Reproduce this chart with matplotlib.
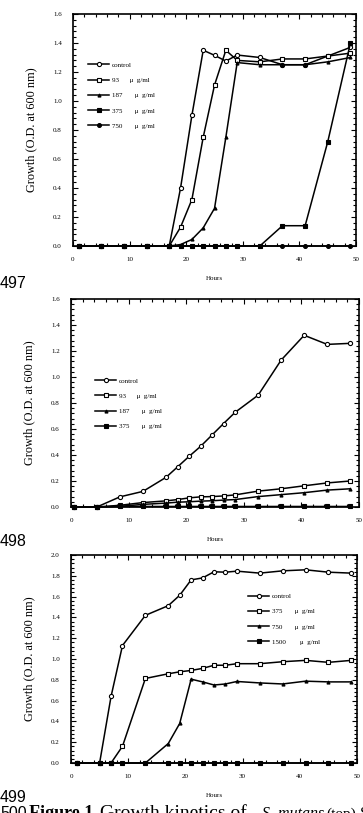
import matplotlib
matplotlib.use("Agg")
import matplotlib.pyplot as plt
from matplotlib.ticker import MultipleLocator, AutoMinorLocator

plt.rcParams['font.family'] = ['Liberation Serif', 'DejaVu Serif']

# panel 1 (top)
hours1 = [1, 5, 9, 13, 17, 19, 21, 23, 25, 27, 29, 33, 37, 41, 45, 49]
p1_control = [0, 0, 0, 0, 0, 0.40, 0.90, 1.35, 1.315, 1.275, 1.317, 1.30, 1.25, 1.25, 1.31, 1.37]
p1_93 = [0, 0, 0, 0, 0, 0.13, 0.32, 0.75, 1.11, 1.35, 1.28, 1.27, 1.29, 1.29, 1.31, 1.33]
p1_187 = [0, 0, 0, 0, 0, 0.01, 0.045, 0.125, 0.26, 0.75, 1.265, 1.25, 1.25, 1.25, 1.27, 1.30]
p1_375 = [0, 0, 0, 0, 0, 0, 0, 0, 0, 0, 0, 0, 0.14, 0.14, 0.72, 1.40]
p1_750 = [0] * 16
labels1 = ["control", "93      \u03bc  g/ml", "187       \u03bc  g/ml",
           "375       \u03bc  g/ml", "750       \u03bc  g/ml"]

# panel 2 (middle)
hours2 = [0.5, 4.5, 8.5, 12.5, 16.5, 18.5, 20.5, 22.5, 24.5, 26.5, 28.5, 32.5, 36.5, 40.5, 44.5, 48.5]
p2_control = [0, 0, 0.078, 0.12, 0.228, 0.308, 0.389, 0.466, 0.554, 0.642, 0.728, 0.86, 1.13, 1.321, 1.251, 1.259]
p2_93 = [0, 0, 0.013, 0.034, 0.047, 0.057, 0.07, 0.078, 0.08, 0.085, 0.093, 0.122, 0.14, 0.163, 0.185, 0.20]
p2_187 = [0, 0, 0.005, 0.02, 0.03, 0.037, 0.04, 0.045, 0.048, 0.053, 0.057, 0.08, 0.095, 0.11, 0.13, 0.14]
p2_375 = [0, 0, 0.004, 0.004, 0.004, 0.004, 0.004, 0.004, 0.004, 0.004, 0.004, 0.004, 0.004, 0.004, 0.004, 0.004]
labels2 = ["control", "93      \u03bc  g/ml", "187       \u03bc  g/ml", "375       \u03bc  g/ml"]

# panel 3 (bottom)
hours3 = [1, 5, 7, 9, 13, 17, 19, 21, 23, 25, 27, 29, 33, 37, 41, 45, 49]
p3_control = [0, 0, 0.64, 1.13, 1.42, 1.513, 1.613, 1.761, 1.78, 1.839, 1.835, 1.845, 1.826, 1.848, 1.858, 1.835, 1.826]
p3_375 = [0, 0, 0, 0.161, 0.813, 0.858, 0.877, 0.89, 0.91, 0.94, 0.94, 0.955, 0.955, 0.974, 0.987, 0.968, 0.987]
p3_750 = [0, 0, 0, 0, 0, 0.187, 0.38, 0.806, 0.78, 0.75, 0.76, 0.784, 0.77, 0.76, 0.787, 0.78, 0.78]
p3_1500 = [0] * 17
labels3 = ["control", "375       \u03bc  g/ml", "750       \u03bc  g/ml", "1500        \u03bc  g/ml"]

open_circle = dict(marker='o', mfc='white', ms=3.0)
open_square = dict(marker='s', mfc='white', ms=3.0)
triangle = dict(marker='^', mfc='black', ms=2.2)
full_square = dict(marker='s', mfc='black', ms=3.0)
full_circle = dict(marker='o', mfc='black', ms=2.8)

fig = plt.figure(figsize=(3.63, 8.13), dpi=100)


def style_axes(ax, ymax, ystep):
    ax.set_xlim(0, 50)
    ax.set_ylim(0, ymax)
    ax.xaxis.set_major_locator(MultipleLocator(10))
    ax.xaxis.set_minor_locator(MultipleLocator(2))
    ax.yaxis.set_major_locator(MultipleLocator(ystep))
    ax.yaxis.set_minor_locator(AutoMinorLocator(5))
    ax.yaxis.set_major_formatter(plt.FuncFormatter(lambda v, p: f"{v:.1f}"))
    ax.tick_params(which='both', direction='in', top=True, right=True, width=0.8)
    ax.tick_params(which='major', length=3.5, labelsize=5, pad=8)
    ax.tick_params(which='minor', length=2)
    for s in ax.spines.values():
        s.set_linewidth(1.2)
    ax.set_xlabel("Hours", fontsize=5, labelpad=10)
    ax.set_ylabel("Growth (O.D. at 600 nm)", fontsize=8.8, labelpad=11)


def draw(ax, x, series, styles, labels, anchor):
    for y, st, lab in zip(series, styles, labels):
        ax.plot(x, y, color='black', lw=1.1, mec='black', mew=0.8, label=lab,
                clip_on=False, zorder=3, **st)
    ax.legend(loc='upper left', bbox_to_anchor=anchor, frameon=False, fontsize=5,
              handlelength=3.0, handletextpad=0.4, labelspacing=1.35, borderaxespad=0)


ax1 = fig.add_axes([0.201, 0.6974, 0.780, 0.2854])
draw(ax1, hours1, [p1_control, p1_93, p1_187, p1_375, p1_750],
     [open_circle, open_square, triangle, full_square, full_circle], labels1, (0.045, 0.805))
style_axes(ax1, 1.6, 0.2)

ax2 = fig.add_axes([0.1956, 0.3764, 0.793, 0.2558])
draw(ax2, hours2, [p2_control, p2_93, p2_187, p2_375],
     [open_circle, open_square, triangle, full_square], labels2, (0.075, 0.635))
style_axes(ax2, 1.6, 0.2)

ax3 = fig.add_axes([0.1956, 0.0615, 0.788, 0.2558])
draw(ax3, hours3, [p3_control, p3_375, p3_750, p3_1500],
     [open_circle, open_square, triangle, full_square], labels3, (0.61, 0.83))
style_axes(ax3, 2.0, 0.2)

# page line numbers and caption (cut off by the page edge, as in the scan)
W, H = 363, 813
sans = ['Liberation Sans', 'DejaVu Sans']
num = dict(fontsize=11.5, family=sans, va='center', ha='left')
fig.text(0.0, 1 - 284 / H, "497", **num)
fig.text(0.0, 1 - 541 / H, "498", **num)
fig.text(0.0, 1 - 797 / H, "499", **num)

base = 1 - 818 / H
fig.text(0 / W, base, "500", fontsize=11.5, family=sans, va='baseline')
fig.text(29 / W, base, "Figure 1.", fontsize=13, weight='bold', va='baseline')
fig.text(100 / W, base, "Growth kinetics of", fontsize=14, va='baseline')
fig.text(262 / W, base, "S. mutans", fontsize=11.5, style='italic', va='baseline')
fig.text(326 / W, base, "(top),", fontsize=11, va='baseline')
fig.text(360 / W, base, "S", fontsize=12, va='baseline')

fig.savefig("out.png", dpi=100)
